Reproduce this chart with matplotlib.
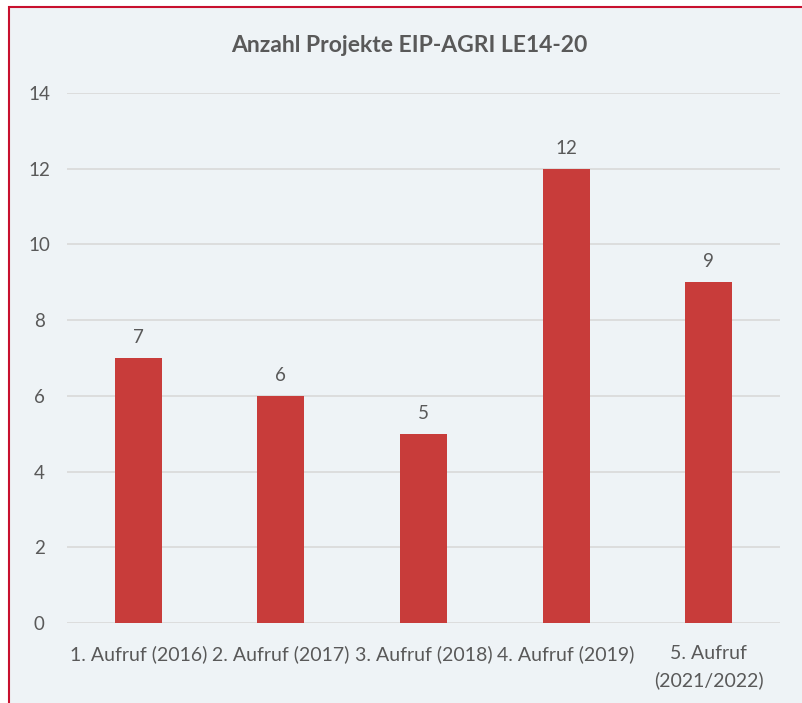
import matplotlib
matplotlib.use("Agg")
import matplotlib.pyplot as plt
from matplotlib.patches import Rectangle

categories = ["1. Aufruf (2016)", "2. Aufruf (2017)", "3. Aufruf (2018)", "4. Aufruf (2019)", "5. Aufruf\n(2021/2022)"]
values = [7, 6, 5, 12, 9]
title = "Anzahl Projekte EIP-AGRI LE14-20"

plt.rcParams['font.family'] = ['Lato', 'DejaVu Sans']
txt = "#595959"
W, H = 803, 703
fig = plt.figure(figsize=(W/100, H/100), dpi=100)
fig.patch.set_facecolor("white")
fig.patches.append(Rectangle((8.5/W, -0.1), 1.2, (H-7.5)/H + 0.1, transform=fig.transFigure,
                             facecolor="#EEF3F6", edgecolor="#C8102E", linewidth=1.5, zorder=-1))

ax = fig.add_axes([67/W, 1-623/H, (780-67)/W, (623-93)/H])
ax.set_facecolor("none")
x = range(len(categories))
bars = ax.bar(x, values, width=0.33, color="#C83C3A", zorder=3)
for xi, v in zip(x, values):
    ax.text(xi, v + 0.32, str(v), ha="center", va="bottom", fontsize=13.5, color=txt)
ax.set_xlim(-0.5, len(categories)-0.5)
ax.set_ylim(0, 14)
ax.set_yticks(range(0, 15, 2))
ax.set_xticks(list(x))
ax.set_xticklabels(categories, fontsize=14, color=txt, linespacing=1.6)
ax.tick_params(axis="y", labelsize=13.5, labelcolor=txt, length=0, pad=20)
ax.tick_params(axis="x", length=0, pad=16)
ax.grid(axis="y", color="#D9D9D9", linewidth=1.2, zorder=0)
for s in ax.spines.values():
    s.set_visible(False)
for lab in ax.get_yticklabels():
    lab.set_horizontalalignment("center")
fig.text(409/W, 1-45/H, title, ha="center", va="center", fontsize=16.5, fontweight="bold", color=txt)
fig.savefig("out.png", dpi=100)
